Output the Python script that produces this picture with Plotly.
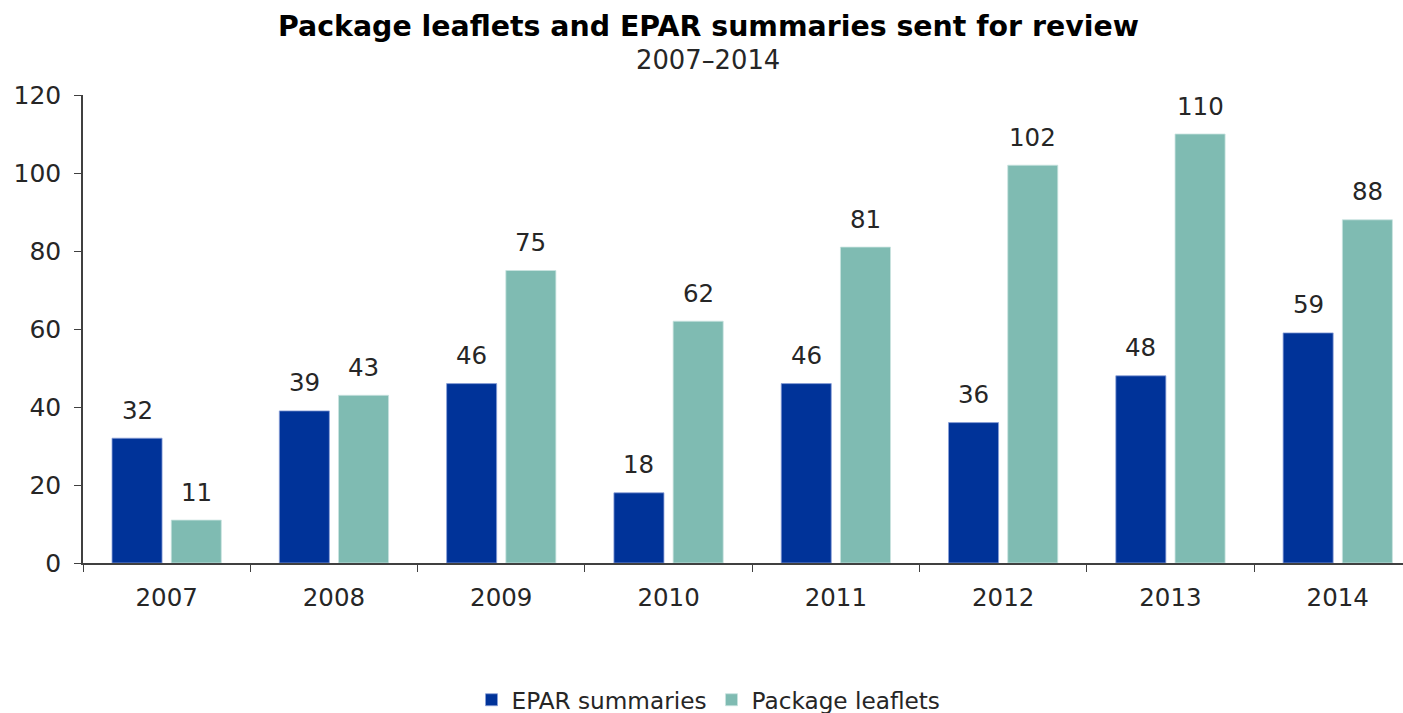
import plotly.graph_objects as go

# Review counts per year
years = ["2007", "2008", "2009", "2010", "2011", "2012", "2013", "2014"]
epar_summaries = [32, 39, 46, 18, 46, 36, 48, 59]
package_leaflets = [11, 43, 75, 62, 81, 102, 110, 88]

y_ticks = [0, 20, 40, 60, 80, 100, 120]

BLUE = "#003399"
TEAL = "#7FBBB2"
TEXT = "#262626"
FONT = "DejaVu Sans"

fig = go.Figure()
fig.add_trace(go.Bar(
    name="EPAR summaries", x=years, y=epar_summaries,
    marker=dict(color=BLUE, line=dict(color="#8aa0d8", width=0.8)),
))
fig.add_trace(go.Bar(
    name="Package leaflets", x=years, y=package_leaflets,
    marker=dict(color=TEAL, line=dict(color="#c9e3df", width=0.8)),
))

# value labels above each bar (category axes position annotations by index)
annotations = []
for i in range(len(years)):
    for val, dx in ((epar_summaries[i], -29.6), (package_leaflets[i], 29.6)):
        annotations.append(dict(
            x=i, y=val, xref="x", yref="y", text=str(val), showarrow=False,
            xshift=dx, yshift=11.5, yanchor="bottom",
            font=dict(family=FONT, size=24.5, color=TEXT),
        ))

# subtitle under the main title
annotations.append(dict(
    text="2007\u20132014", x=0.4735, y=1.0748, xref="paper", yref="paper",
    xanchor="center", yanchor="middle", showarrow=False,
    font=dict(family=FONT, size=25.8, color=TEXT),
))

fig.update_layout(
    width=1403, height=713,
    margin=dict(l=83, r=0, t=95, b=150),
    paper_bgcolor="white", plot_bgcolor="white",
    barmode="group", bargap=0.292, bargroupgap=0.155,
    title=dict(
        text="<b>Package leaflets and EPAR summaries sent for review</b>",
        x=0.505, xanchor="center", xref="container",
        y=0.963, yanchor="middle", yref="container",
        font=dict(family=FONT, size=28.4, color="black"),
    ),
    font=dict(family=FONT, color=TEXT),
    showlegend=True,
    legend=dict(
        orientation="h", x=0.505, xanchor="center", xref="container",
        y=0.018, yanchor="middle", yref="container",
        font=dict(family=FONT, size=23.2, color=TEXT),
        traceorder="normal",
    ),
    annotations=annotations,
)

fig.update_xaxes(
    type="category", range=[-0.5, 7.39],
    showline=True, linecolor="#404040", linewidth=1.5,
    ticks="outside", tickson="boundaries", ticklen=7, tickcolor="#404040",
    tickfont=dict(family=FONT, size=24.5, color=TEXT),
    ticklabelstandoff=12,
    showgrid=False, zeroline=False,
)
fig.update_yaxes(
    range=[0, 120], tickvals=y_ticks,
    showline=True, linecolor="#404040", linewidth=1.5,
    ticks="outside", ticklen=7, tickcolor="#404040",
    tickfont=dict(family=FONT, size=25, color=TEXT),
    ticklabelstandoff=8,
    showgrid=False, zeroline=False,
)

fig.write_html("out.html")
